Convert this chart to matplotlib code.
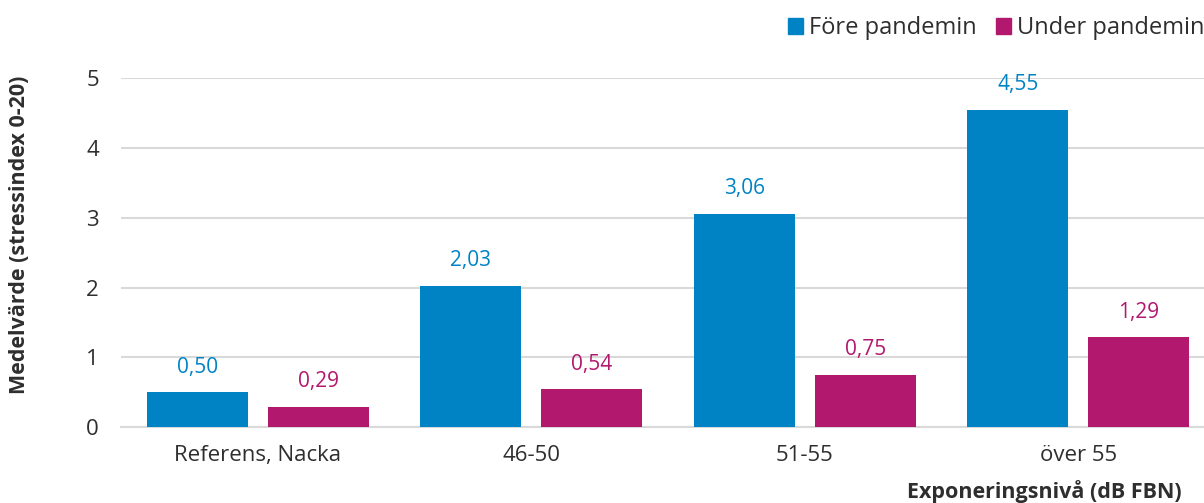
import matplotlib
matplotlib.use("Agg")
import matplotlib.pyplot as plt
import numpy as np
from matplotlib.patches import Patch

categories = ["Referens, Nacka", "46-50", "51-55", "över 55"]
fore = [0.50, 2.03, 3.06, 4.55]
under = [0.29, 0.54, 0.75, 1.29]
series_names = ["Före pandemin", "Under pandemin"]
yticks = [0, 1, 2, 3, 4, 5]

BLUE = "#0083C5"
MAG = "#B2186E"
TXT = "#2E2E2E"
GRID = "#D9D9D9"

plt.rcParams['font.family'] = ['Open Sans', 'DejaVu Sans']

fig = plt.figure(figsize=(12.04, 5.03), dpi=100)
W, H = 1204, 503
ax = fig.add_axes([121 / W, 1 - 427 / H, (1204 - 121) / W, (427 - 78.5) / H])

x = np.arange(len(categories))
bw = 0.37
off = 0.221
b1 = ax.bar(x - off, fore, bw, color=BLUE, zorder=3)
b2 = ax.bar(x + off, under, bw, color=MAG, zorder=3)

for bars, vals, col in [(b1, fore, BLUE), (b2, under, MAG)]:
    for r, v in zip(bars, vals):
        ax.annotate(f"{v:.2f}".replace(".", ","), (r.get_x() + r.get_width() / 2, v),
                    xytext=(0, 18), textcoords="offset points", ha="center", va="center",
                    color=col, fontsize=15)

ax.set_ylim(0, 5)
ax.set_xlim(-0.5, 3.46)
ax.set_yticks(yticks)
ax.set_yticklabels([str(t) for t in yticks])
ax.set_xticks(x)
ax.set_xticklabels(categories)
ax.tick_params(axis='both', length=0, labelsize=16, labelcolor=TXT)
ax.tick_params(axis='y', pad=16)
ax.tick_params(axis='x', pad=13)
ax.grid(axis='y', color=GRID, linewidth=1.5, zorder=0)
for s in ["top", "right", "left"]:
    ax.spines[s].set_visible(False)
ax.spines["bottom"].set_color(GRID)
ax.spines["bottom"].set_linewidth(1.5)

fig.text(20 / W, 1 - 235 / H, "Medelvärde (stressindex 0-20)", rotation=90,
         ha="center", va="center", fontsize=15.5, fontweight="bold", color=TXT)
fig.text(1182 / W, 1 - 492 / H, "Exponeringsnivå (dB FBN)", ha="right", va="center",
         fontsize=15.5, fontweight="bold", color=TXT)

handles = [Patch(color=BLUE), Patch(color=MAG)]
leg = fig.legend(handles, series_names, loc="center right", bbox_to_anchor=(1.018, 1 - 28 / H),
                 ncol=2, frameon=False, fontsize=17, handlelength=0.65, handleheight=0.65,
                 handletextpad=0.25, columnspacing=0.8, labelcolor=TXT)

fig.savefig("out.png", dpi=100)
